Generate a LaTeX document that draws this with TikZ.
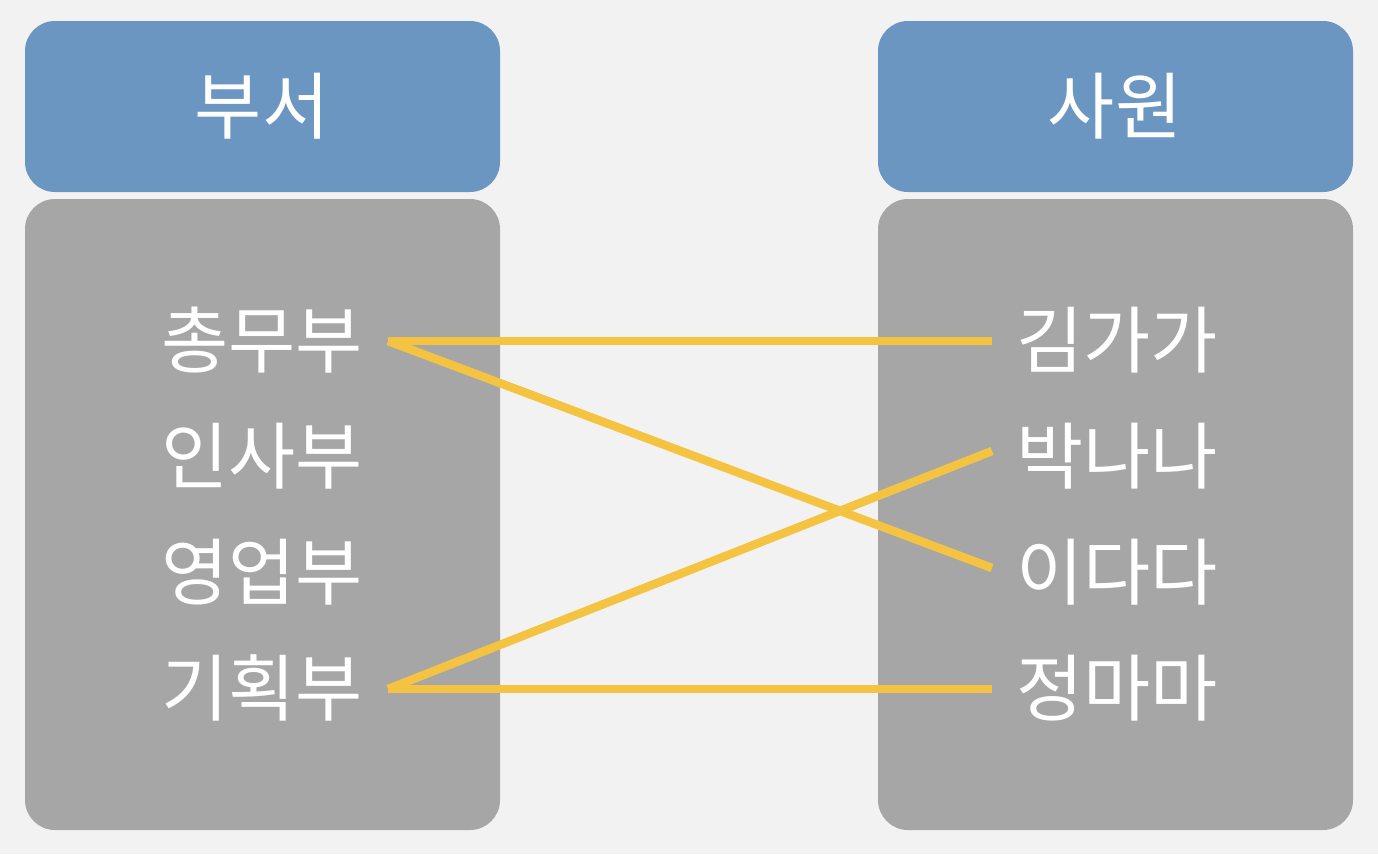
\documentclass[tikz,border=0pt]{standalone}
\usepackage{fontspec}
\newfontfamily\kr{Noto Sans CJK KR}
\definecolor{bg}{HTML}{F2F2F2}
\definecolor{hdr}{HTML}{6A96C1}
\definecolor{panel}{HTML}{A6A6A6}
\definecolor{link}{HTML}{F5C342}
\begin{document}
\begin{tikzpicture}[x=1pt,y=-1pt,
  hbox/.style={fill=hdr,draw=none,rounded corners=30pt},
  pbox/.style={fill=panel,draw=none,rounded corners=30pt},
  lbl/.style={text=white,font=\kr\fontsize{73pt}{73pt}\selectfont,inner sep=0pt},
  linkline/.style={draw=link,line width=8.5pt}]
\fill[bg] (0,0) rectangle (1378,854);
\useasboundingbox (0,0) rectangle (1378,854);
% boxes
\fill[hbox] (25,21) rectangle (500,192);
\fill[pbox] (25,199) rectangle (500,830);
\fill[hbox] (878,21) rectangle (1353,192);
\fill[pbox] (878,199) rectangle (1353,830);
% headers
\node[lbl] (h1) at (262,106) {부서};
\node[lbl] (h2) at (1115,106) {사원};
% left items
\node[lbl] (d1) at (262,340) {총무부};
\node[lbl] (d2) at (262,456) {인사부};
\node[lbl] (d3) at (262,572) {영업부};
\node[lbl] (d4) at (262,688) {기획부};
% right items
\node[lbl] (e1) at (1117,340) {김가가};
\node[lbl] (e2) at (1117,456) {박나나};
\node[lbl] (e3) at (1117,572) {이다다};
\node[lbl] (e4) at (1117,688) {정마마};
% connector ends
\coordinate (a1) at (388,341);
\coordinate (a4) at (388,689);
\coordinate (b1) at (992,341);
\coordinate (b2) at (992,451);
\coordinate (b3) at (992,568);
\coordinate (b4) at (992,689);
\draw[linkline] (a1) -- (b1);
\draw[linkline] (a1) -- (b3);
\draw[linkline] (a4) -- (b2);
\draw[linkline] (a4) -- (b4);
\end{tikzpicture}
\end{document}
